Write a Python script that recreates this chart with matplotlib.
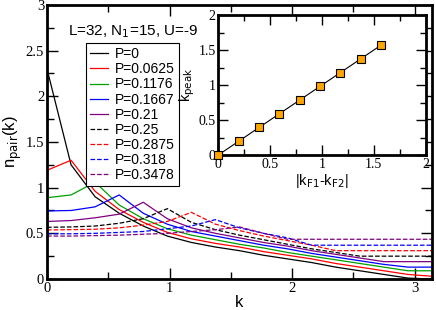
import numpy as np
import matplotlib
matplotlib.use("Agg")
import matplotlib.pyplot as plt
from matplotlib.ticker import MultipleLocator, FuncFormatter

k = np.arange(17) * np.pi / 16

labels = ["P=0", "P=0.0625", "P=0.1176", "P=0.1667", "P=0.21",
          "P=0.25", "P=0.2875", "P=0.318", "P=0.3478"]

n_p0     = [2.30, 1.25, 0.90, 0.72, 0.58, 0.47, 0.40, 0.35, 0.31, 0.26, 0.22, 0.18, 0.13, 0.09, 0.05, 0.01, 0.00]
n_p0625  = [1.19, 1.30, 0.96, 0.76, 0.62, 0.51, 0.44, 0.39, 0.35, 0.30, 0.26, 0.22, 0.17, 0.13, 0.09, 0.05, 0.03]
n_p1176  = [0.89, 0.92, 1.06, 0.81, 0.66, 0.55, 0.48, 0.43, 0.38, 0.34, 0.29, 0.25, 0.21, 0.17, 0.13, 0.09, 0.09]
n_p1667  = [0.745, 0.75, 0.79, 0.92, 0.72, 0.60, 0.52, 0.47, 0.42, 0.37, 0.33, 0.28, 0.24, 0.20, 0.16, 0.13, 0.13]
n_p21    = [0.63, 0.64, 0.67, 0.71, 0.84, 0.66, 0.56, 0.50, 0.45, 0.40, 0.36, 0.31, 0.27, 0.23, 0.19, 0.19, 0.19]
n_p25    = [0.566, 0.57, 0.58, 0.61, 0.66, 0.77, 0.62, 0.54, 0.48, 0.43, 0.38, 0.33, 0.29, 0.25, 0.25, 0.25, 0.25]
n_p2875  = [0.537, 0.54, 0.545, 0.56, 0.59, 0.63, 0.73, 0.60, 0.53, 0.47, 0.42, 0.37, 0.31, 0.31, 0.31, 0.31, 0.31]
n_p318   = [0.495, 0.495, 0.50, 0.51, 0.52, 0.55, 0.58, 0.65, 0.56, 0.50, 0.45, 0.37, 0.37, 0.37, 0.37, 0.37, 0.37]
n_p3478  = [0.47, 0.47, 0.475, 0.48, 0.49, 0.50, 0.52, 0.54, 0.57, 0.50, 0.435, 0.435, 0.435, 0.435, 0.435, 0.435, 0.435]

series = [n_p0, n_p0625, n_p1176, n_p1667, n_p21, n_p25, n_p2875, n_p318, n_p3478]
colors = ["black", "red", "#00a000", "blue", "#800080",
          "black", "red", "blue", "#800080"]
styles = ["-"] * 5 + ["--"] * 4

dkF = [0.0, 0.196, 0.393, 0.589, 0.785, 0.982, 1.178, 1.374, 1.571]
kpeak = [0.0, 0.196, 0.393, 0.589, 0.785, 0.982, 1.178, 1.374, 1.571]

plt.rcParams['font.family'] = ['Liberation Sans', 'DejaVu Sans']
fig = plt.figure(figsize=(4.36, 3.10), dpi=100)
ax = fig.add_axes([0.1078, 0.1, 0.883, 0.884])

for y, c, ls, lab in zip(series, colors, styles, labels):
    ax.plot(k, y, color=c, ls=ls, lw=0.9, label=lab)

fmt = FuncFormatter(lambda v, p: '%g' % v)

ax.set_xlim(0, np.pi)
ax.set_ylim(0, 3)
ax.xaxis.set_major_locator(MultipleLocator(1))
ax.xaxis.set_minor_locator(MultipleLocator(0.5))
ax.yaxis.set_major_locator(MultipleLocator(0.5))
ax.yaxis.set_minor_locator(MultipleLocator(0.25))
ax.xaxis.set_major_formatter(fmt)
ax.yaxis.set_major_formatter(fmt)
ax.tick_params(which='both', direction='in', top=True, right=True, width=1, pad=2)
ax.tick_params(which='major', length=8)
ax.tick_params(which='minor', length=5)
for sp in ax.spines.values():
    sp.set_linewidth(2)
for t in ax.get_xticklabels() + ax.get_yticklabels():
    t.set_fontfamily('Liberation Serif')
    t.set_fontsize(10.5)
ax.set_xlabel('k', fontsize=12, labelpad=0)
ax.set_ylabel(r'n$_{\mathrm{pair}}$(k)', fontsize=12, labelpad=1)

fig.text(133 / 436, 1 - 32 / 310, r'L=32, N$_{\mathrm{1}}$=15, U=-9', fontsize=11,
         ha='center', va='center')

leg = ax.legend(loc='upper left', bbox_to_anchor=(86 / 436, 1 - 43 / 310),
                bbox_transform=fig.transFigure, borderaxespad=0,
                fontsize=10, frameon=True, fancybox=False, edgecolor='black',
                framealpha=1, handlelength=1.3, handletextpad=0.5,
                labelspacing=0.08, borderpad=0.3)
leg.get_frame().set_linewidth(0.8)

ins = fig.add_axes([0.5007, 0.5, 0.4757, 0.4516])
ins.plot(dkF, kpeak, color='black', lw=0.8, marker='s', markersize=5.5,
         markerfacecolor='#ffa500', markeredgecolor='black', markeredgewidth=0.8,
         clip_on=False, zorder=5)
ins.set_xlim(0, 2)
ins.set_ylim(0, 2)
ins.xaxis.set_major_locator(MultipleLocator(0.5))
ins.xaxis.set_minor_locator(MultipleLocator(0.25))
ins.yaxis.set_major_locator(MultipleLocator(0.5))
ins.yaxis.set_minor_locator(MultipleLocator(0.25))
ins.xaxis.set_major_formatter(fmt)
ins.yaxis.set_major_formatter(fmt)
ins.tick_params(which='both', direction='in', top=True, right=True, width=1, pad=2)
ins.tick_params(which='major', length=7)
ins.tick_params(which='minor', length=4)
for sp in ins.spines.values():
    sp.set_linewidth(2)
for t in ins.get_xticklabels() + ins.get_yticklabels():
    t.set_fontfamily('Liberation Serif')
    t.set_fontsize(10)
ins.set_xlabel(r'|k$_{\mathrm{F1}}$-k$_{\mathrm{F2}}$|', fontsize=10.5, labelpad=1)
ins.set_ylabel(r'k$_{\mathrm{peak}}$', fontsize=10.5, labelpad=1)

fig.savefig('out.png', dpi=100)
